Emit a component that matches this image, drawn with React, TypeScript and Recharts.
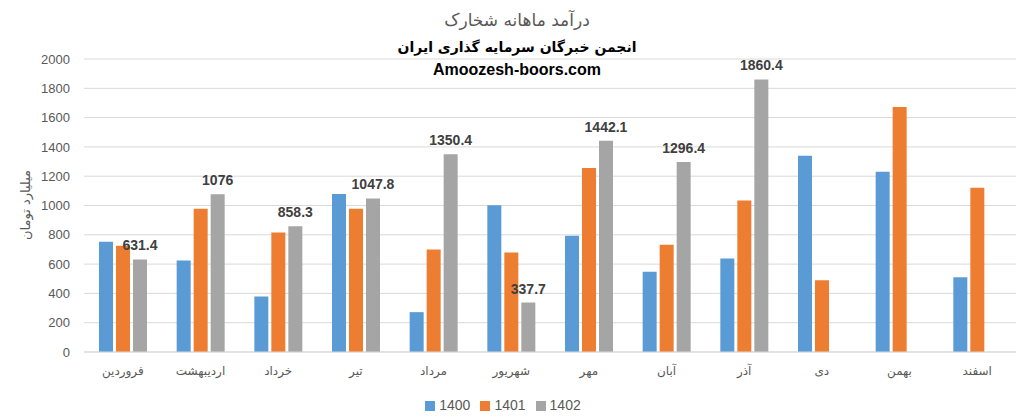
import React from 'react';
import { BarChart, Bar, XAxis, YAxis, CartesianGrid, Legend, LabelList } from 'recharts';

// months (Persian calendar)
const months = ['فروردین', 'اردیبهشت', 'خرداد', 'تیر', 'مرداد', 'شهریور', 'مهر', 'آبان', 'آذر', 'دی', 'بهمن', 'اسفند'];

const rev1400 = [752, 624, 379, 1079, 272, 1002, 794, 548, 639, 1340, 1231, 510];
const rev1401 = [726, 977, 815, 977, 699, 679, 1256, 732, 1034, 490, 1673, 1122];
const rev1402 = [631.4, 1076, 858.3, 1047.8, 1350.4, 337.7, 1442.1, 1296.4, 1860.4, null, null, null];

const yTicks = [0, 200, 400, 600, 800, 1000, 1200, 1400, 1600, 1800, 2000];

const data = months.map((m, i) => ({
    name: m,
    '1400': rev1400[i],
    '1401': rev1401[i],
    '1402': rev1402[i],
}));

const numFont = '"Liberation Sans", Arial, sans-serif';
const faFont = '"DejaVu Sans", sans-serif';

const App: React.FC = () => (
    <div style={{ position: 'absolute', left: 0, top: 0, width: 1034, height: 420, background: '#fff' }}>
        <BarChart
            width={1034}
            height={420}
            data={data}
            margin={{ top: 59, right: 18, bottom: 7, left: 0 }}
            barSize={14}
            barGap={3}
        >
            <CartesianGrid vertical={false} stroke="#d9d9d9" />
            <XAxis
                dataKey="name"
                height={45}
                axisLine={{ stroke: '#d9d9d9' }}
                tickLine={false}
                tickMargin={8}
                interval={0}
                tick={{ fill: '#595959', fontSize: 12, fontFamily: faFont }}
            />
            <YAxis
                width={84}
                domain={[0, 2000]}
                ticks={yTicks}
                axisLine={false}
                tickLine={false}
                tickMargin={8}
                tick={{ fill: '#595959', fontSize: 13, fontFamily: numFont }}
            />
            <Legend
                iconType="square"
                iconSize={10}
                wrapperStyle={{ fontFamily: numFont, fontSize: 14 }}
                formatter={(v: any) => <span style={{ color: '#595959' }}>{v}</span>}
            />
            <Bar dataKey="1400" fill="#5B9BD5" isAnimationActive={false} />
            <Bar dataKey="1401" fill="#ED7D31" isAnimationActive={false} />
            <Bar dataKey="1402" fill="#A5A5A5" isAnimationActive={false}>
                <LabelList
                    dataKey="1402"
                    position="top"
                    offset={9}
                    fill="#404040"
                    fontSize={14}
                    fontWeight="bold"
                    fontFamily={numFont}
                />
            </Bar>
        </BarChart>

        <div style={{ position: 'absolute', left: 0, top: 8, width: 1034, textAlign: 'center', direction: 'rtl', fontFamily: faFont, fontSize: 17, color: '#595959', lineHeight: '24px' }}>
            درآمد ماهانه شخارک
        </div>
        <div style={{ position: 'absolute', left: 0, top: 37, width: 1034, textAlign: 'center', direction: 'rtl', fontFamily: faFont, fontSize: 14, fontWeight: 'bold', color: '#000', lineHeight: '20px' }}>
            انجمن خبرگان سرمایه گذاری ایران
        </div>
        <div style={{ position: 'absolute', left: 0, top: 60, width: 1034, textAlign: 'center', fontFamily: numFont, fontSize: 16, fontWeight: 'bold', color: '#000', lineHeight: '20px' }}>
            Amoozesh-boors.com
        </div>
        <div style={{ position: 'absolute', left: 25, top: 205, transform: 'translate(-50%, -50%) rotate(-90deg)', whiteSpace: 'nowrap', direction: 'rtl', fontFamily: faFont, fontSize: 13, color: '#595959' }}>
            میلیارد تومان
        </div>
    </div>
);

export default App;
